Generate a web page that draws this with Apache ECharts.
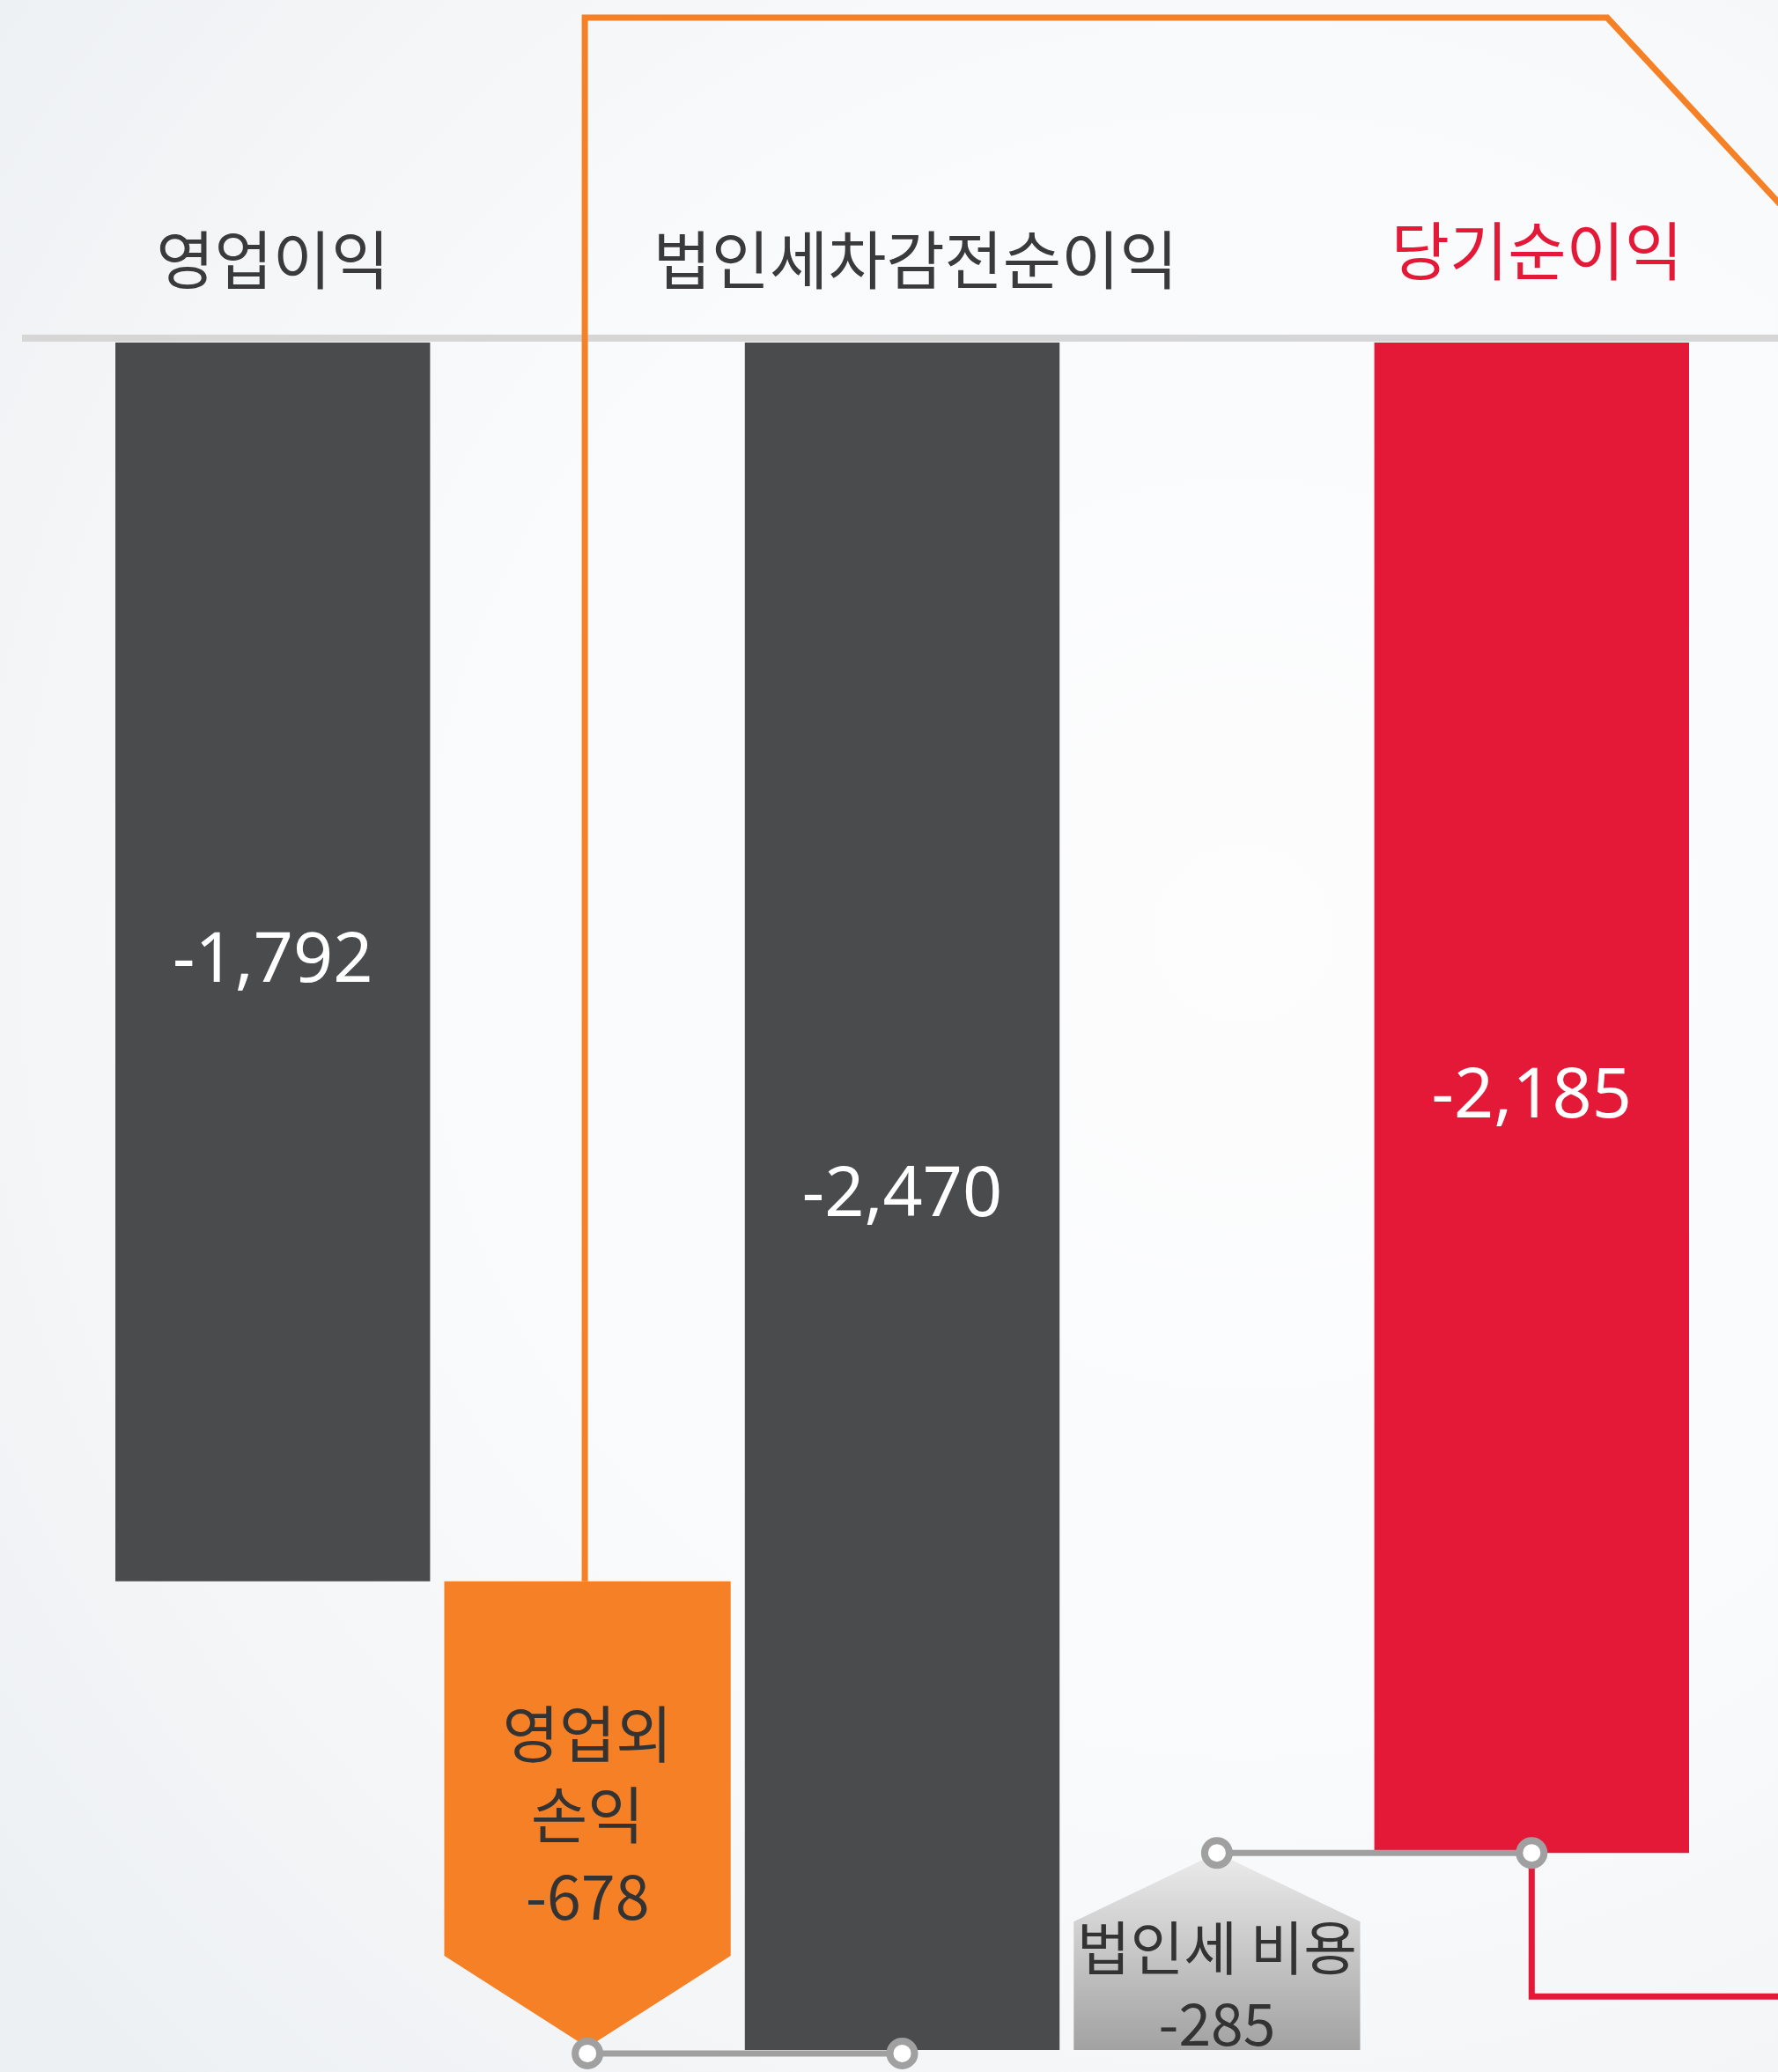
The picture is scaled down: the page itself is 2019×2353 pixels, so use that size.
<!DOCTYPE html>
<html>
<head>
<meta charset="utf-8">
<script src="https://cdn.jsdelivr.net/npm/echarts@6/dist/echarts.min.js"></script>
<style>
  html, body { margin: 0; padding: 0; }
  #chart { width: 2019px; height: 2353px; }
</style>
</head>
<body>
<div id="chart"></div>
<script>
// waterfall: operating profit -> pre-tax -> net (단위: 억원)
const categories = ['영업이익', '영업외 손익', '법인세차감전순이익', '법인세 비용', '당기순이익']
const kinds = ['total', 'down', 'total', 'up', 'net']
const barStart = [0, -1792, 0, -2470, 0]
const barEnd = [-1792, -2470, -2470, -2185, -2185]
const valueLabels = [-1792, -678, -2470, -285, -2185]

const DARK = '#4a4b4d'
const ORANGE = '#f58025'
const RED = '#e31937'
const GREY = '#a0a0a0'
const TEXT = '#3a3a3c'
const KR = 'Noto Sans CJK KR, sans-serif'

const fmt = v => v.toLocaleString('en-US')

const renderStep = (params, api) => {
  const i = api.value(0)
  const top = api.coord([i, api.value(1)])
  const bottom = api.coord([i, api.value(2)])
  const band = api.size([1, 0])[0]
  const kind = kinds[i]
  const cx = top[0]
  const y0 = Math.min(top[1], bottom[1])
  const y1 = Math.max(top[1], bottom[1])

  if (kind === 'total' || kind === 'net') {
    const w = band
    return {
      type: 'group',
      children: [
        {
          type: 'rect',
          shape: { x: cx - w / 2, y: y0, width: w, height: y1 - y0 },
          style: { fill: kind === 'net' ? RED : DARK }
        },
        {
          type: 'text',
          style: {
            text: fmt(valueLabels[i]),
            x: cx,
            y: (y0 + y1) / 2,
            align: 'center',
            verticalAlign: 'middle',
            fill: '#fff',
            fontSize: 79,
            fontFamily: 'Noto Sans, sans-serif'
          }
        }
      ]
    }
  }

  const w = band * 0.91
  const l = cx - w / 2
  const r = cx + w / 2
  if (kind === 'down') {
    const shoulder = y1 - 107
    return {
      type: 'group',
      children: [
        {
          type: 'polygon',
          shape: { points: [[l, y0], [r, y0], [r, shoulder], [cx, y1 - 3], [l, shoulder]] },
          style: { fill: ORANGE }
        },
        {
          type: 'text',
          style: {
            text: categories[i].replace(' ', '\n') + '\n' + fmt(valueLabels[i]),
            x: cx,
            y: (y0 + y1) / 2,
            align: 'center',
            verticalAlign: 'middle',
            fill: '#333',
            fontSize: 70,
            lineHeight: 92,
            fontFamily: KR
          }
        }
      ]
    }
  }

  // up step (tax), house shaped
  const shoulder = y0 + 78
  return {
    type: 'group',
    children: [
      {
        type: 'polygon',
        shape: { points: [[cx, y0], [r, shoulder], [r, y1], [l, y1], [l, shoulder]] },
        style: {
          fill: new echarts.graphic.LinearGradient(0, 0, 0, 1, [
            { offset: 0, color: '#ececec' },
            { offset: 1, color: '#a2a2a2' }
          ])
        }
      },
      {
        type: 'text',
        style: {
          text: categories[i] + '\n' + fmt(valueLabels[i]),
          x: cx,
          y: (shoulder + y1) / 2,
          align: 'center',
          verticalAlign: 'middle',
          fill: '#333',
          fontSize: 66,
          lineHeight: 86,
          fontFamily: KR
        }
      }
    ]
  }
}

const renderLinks = (params, api) => {
  const W = api.getWidth()
  const orangeTop = api.coord([1, barStart[1]])
  const orangeTip = api.coord([1, barEnd[1]])
  const pretaxEnd = api.coord([2, barEnd[2]])
  const taxTip = api.coord([3, barEnd[3]])
  const netEnd = api.coord([4, barEnd[4]])
  const band = api.size([1, 0])[0]
  const cornerX = netEnd[0] + band * 0.24
  const dot = p => ({
    type: 'circle',
    shape: { cx: p[0], cy: p[1], r: 14 },
    style: { fill: '#fff', stroke: GREY, lineWidth: 8 }
  })
  return {
    type: 'group',
    children: [
      {
        type: 'polyline',
        shape: { points: [[orangeTop[0] - 3, orangeTop[1]], [orangeTop[0] - 3, 20], [cornerX, 20], [W + 20, 20 + (W + 20 - cornerX) * 1.08]] },
        style: { stroke: ORANGE, lineWidth: 7, fill: null }
      },
      {
        type: 'polyline',
        shape: { points: [netEnd, [netEnd[0], netEnd[1] + 163], [W + 10, netEnd[1] + 163]] },
        style: { stroke: RED, lineWidth: 7, fill: null }
      },
      {
        type: 'line',
        shape: { x1: orangeTip[0], y1: orangeTip[1] + 4, x2: pretaxEnd[0], y2: pretaxEnd[1] + 4 },
        style: { stroke: GREY, lineWidth: 7 }
      },
      {
        type: 'line',
        shape: { x1: taxTip[0], y1: taxTip[1], x2: netEnd[0], y2: netEnd[1] },
        style: { stroke: GREY, lineWidth: 7 }
      },
      dot([orangeTip[0], orangeTip[1] + 4]),
      dot([pretaxEnd[0], pretaxEnd[1] + 4]),
      dot(taxTip),
      dot(netEnd)
    ]
  }
}

const labelFont = { fontSize: 72, fontFamily: KR }

const chart = echarts.init(document.getElementById('chart'))
chart.setOption({
  animation: false,
  backgroundColor: {
    type: 'radial',
    x: 0.7,
    y: 0.45,
    r: 0.9,
    colorStops: [
      { offset: 0, color: '#fdfdfe' },
      { offset: 0.55, color: '#f9fafb' },
      { offset: 1, color: '#edf0f3' }
    ]
  },
  graphic: [
    {
      type: 'rect',
      shape: { x: 25, y: 380, width: 1994, height: 8 },
      style: { fill: '#d6d6d6' },
      z: 1
    }
  ],
  grid: { left: 131, right: 101, top: 389, bottom: 0 },
  xAxis: {
    type: 'category',
    position: 'top',
    data: categories,
    axisLine: { show: false },
    axisTick: { show: false },
    axisLabel: {
      interval: 0,
      margin: 58,
      ...labelFont,
      formatter: (v, i) => {
        if (kinds[i] === 'net') return '{r|' + v + '}'
        if (kinds[i] === 'total') return (i === 2 ? '{w|' : '{n|') + v + '}'
        return ''
      },
      rich: {
        n: { ...labelFont, color: TEXT },
        w: { ...labelFont, color: TEXT, padding: [0, 0, 0, 30] },
        r: { ...labelFont, color: RED, padding: [0, 0, 10, 12] }
      }
    }
  },
  yAxis: {
    type: 'value',
    min: -2502,
    max: 0,
    show: false,
    splitLine: { show: false }
  },
  series: [
    {
      type: 'custom',
      renderItem: renderStep,
      data: categories.map((c, i) => [i, barStart[i], barEnd[i]]),
      z: 2
    },
    {
      type: 'custom',
      renderItem: renderLinks,
      data: [[0]],
      z: 3
    }
  ]
})
</script>
</body>
</html>
